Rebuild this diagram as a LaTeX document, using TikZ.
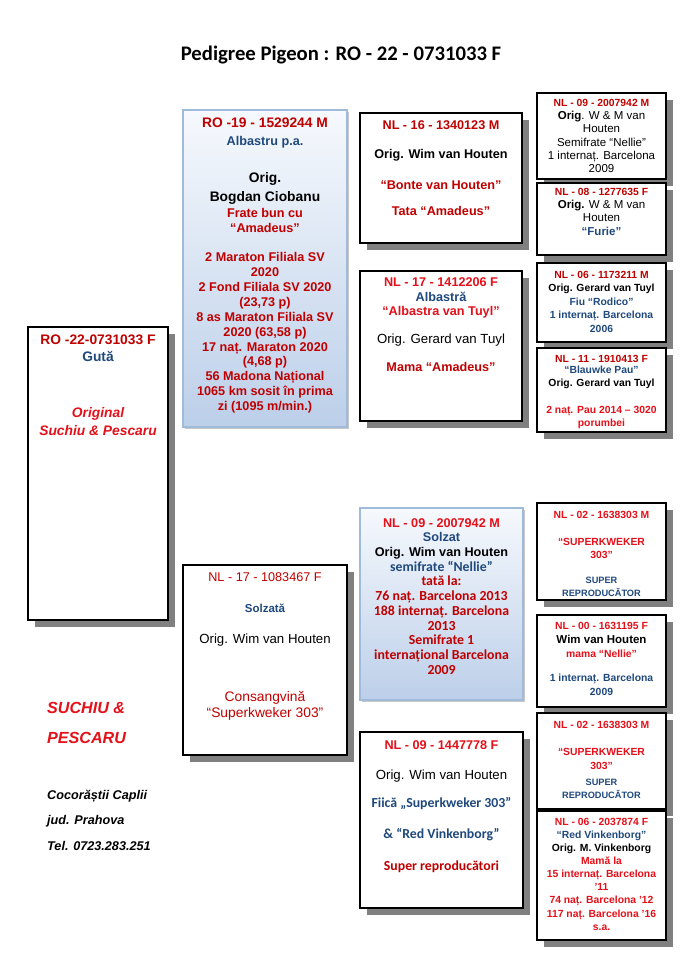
\documentclass[tikz,border=0pt]{standalone}
\usepackage{fontspec}
\setmainfont{Liberation Sans}
\newfontfamily\calib{Carlito}
\usetikzlibrary{shadows,calc,fit}
\definecolor{pedred}{RGB}{192,0,0}
\definecolor{litred}{RGB}{228,16,26}
\definecolor{pedblue}{RGB}{31,73,125}
\definecolor{gradtop}{RGB}{246,249,253}
\definecolor{gradbot}{RGB}{188,207,233}
\definecolor{gradline}{RGB}{160,186,218}
\newcommand{\fsz}[2]{\fontsize{#1}{#2}\selectfont}
\newcommand{\pred}[1]{{\color{pedred}#1}}
\newcommand{\plred}[1]{{\color{litred}#1}}
\newcommand{\pblue}[1]{{\color{pedblue}#1}}
\newcommand{\cbf}{\calib\fsz{12}{12.8}}

\begin{document}
\begin{tikzpicture}[
    x=0.869pt, y=-0.869pt,
    pedbox/.style={
        draw=black,
        line width=1pt,
        fill=white,
        inner sep=0pt,
        drop shadow={shadow xshift=6pt, shadow yshift=-6pt, fill=black!50, opacity=1}
    },
    gradbox/.style={
        draw=gradline,
        line width=1pt,
        top color=gradtop,
        bottom color=gradbot,
        inner sep=0pt,
        drop shadow={shadow xshift=2pt, shadow yshift=-2pt, fill=black!22, opacity=1}
    },
    txt/.style={anchor=north, align=center, inner sep=0pt},
    side/.style={anchor=base west, inner sep=0pt, font=\bfseries\itshape}
]
\useasboundingbox (0,0) rectangle (685,968);
\fill[white] (0,0) rectangle (685,968);

% Title
\node[font=\calib\bfseries\fsz{18}{22}] (title) at (341,55)
    {Pedigree Pigeon : RO - 22 - 0731033 F};

% Boxes
\node[pedbox, fit={(28,327) (168,620)}] (root) {};
\node[gradbox, fit={(183,110) (347,427)}] (sire) {};
\node[pedbox, fit={(183,565) (347,755)}] (dam) {};

\node[pedbox, fit={(360,113) (522,243)}] (ss) {};
\node[pedbox, fit={(360,271) (522,421)}] (sd) {};
\node[gradbox, fit={(360,508) (523,700)}] (ds) {};
\node[pedbox, fit={(360,732) (523,908)}] (dd) {};

\node[pedbox, fit={(537,93) (666,179)}] (sss) {};
\node[pedbox, fit={(537,183) (666,255)}] (ssd) {};
\node[pedbox, fit={(537,263) (666,342)}] (sds) {};
\node[pedbox, fit={(537,348) (666,432)}] (sdd) {};
\node[pedbox, fit={(537,503) (666,600)}] (dss) {};
\node[pedbox, fit={(537,615) (666,707)}] (dsd) {};
\node[pedbox, fit={(537,713) (666,809)}] (dds) {};
\node[pedbox, fit={(537,811) (666,940)}] (ddd) {};

% Root
\node[txt, font=\bfseries\fsz{12}{15}] (rootT) at ($(root.north)+(0,8)$)
    {\pred{RO -22-0731033 F}\\
     \pblue{Gută}\\[33.7pt]
     \plred{\itshape Original}\\[0.6pt]
     \plred{\itshape Suchiu \& Pescaru}};

% Generation 1
\node[txt, font=\bfseries\fsz{11}{13}] (sireT) at ($(sire.north)+(0,8)$)
    {{\fsz{12}{13}\pred{RO -19 - 1529244 M}}\\[2.6pt]
     \pblue{Albastru p.a.}\\[19.2pt]
     {\fsz{12}{13}Orig.}\\[3.5pt]
     {\fsz{12}{13}Bogdan Ciobanu}\\[0.9pt]
     \pred{Frate bun cu}\\
     \pred{“Amadeus”}\\[12.2pt]
     \pred{2 Maraton Filiala SV}\\
     \pred{2020}\\
     \pred{2 Fond Filiala SV 2020}\\
     \pred{(23,73 p)}\\
     \pred{8 as Maraton Filiala SV}\\
     \pred{2020 (63,58 p)}\\
     \pred{17 naț. Maraton 2020}\\
     \pred{(4,68 p)}\\
     \pred{56 Madona Național}\\
     \pred{1065 km sosit în prima}\\
     \pred{zi (1095 m/min.)}};

\node[txt, font=\fsz{11}{13}] (damT) at ($(dam.north)+(0,7.5)$)
    {\pred{NL - 17 - 1083467 F}\\[14pt]
     {\bfseries\fsz{10}{13}\pblue{Solzată}}\\[14pt]
     {\fsz{11.5}{13}Orig. Wim van Houten}\\[37.4pt]
     {\fsz{12}{13}\pred{Consangvină}}\\[0.9pt]
     {\fsz{12}{13}\pred{“Superkweker 303”}}};

% Generation 2
\node[txt, font=\bfseries\fsz{11}{13}] (ssT) at ($(ss.north)+(0,8.5)$)
    {\pred{NL - 16 - 1340123 M}\\[12.2pt]
     Orig. Wim van Houten\\[13.1pt]
     \pred{“Bonte van Houten”}\\[9.6pt]
     \pred{Tata “Amadeus”}};

\node[txt, font=\bfseries\fsz{11}{13}] (sdT) at ($(sd.north)+(0,7.5)$)
    {\plred{NL - 17 - 1412206 F}\\[-0.8pt]
     \pblue{Albastră}\\
     \plred{“Albastra van Tuyl”}\\[11.3pt]
     {\mdseries\fsz{11.5}{13}Orig. Gerard van Tuyl}\\[11.3pt]
     \pred{Mama “Amadeus”}};

\node[txt, font=\bfseries\fsz{11}{12.8}] (dsT) at ($(ds.north)+(0,10.5)$)
    {\plred{NL - 09 - 2007942 M}\\
     \pblue{Solzat}\\
     Orig. Wim van Houten\\
     {\cbf\pblue{semifrate “Nellie”}}\\
     {\cbf\pred{tată la:}}\\
     {\cbf\pred{76 naț. Barcelona 2013}}\\
     {\cbf\pred{188 internaț. Barcelona}}\\
     {\cbf\pred{2013}}\\
     {\cbf\pred{Semifrate 1}}\\
     {\cbf\pred{internațional Barcelona}}\\
     {\cbf\pred{2009}}};

\node[txt, font=\bfseries\fsz{11}{13}] (ddT) at ($(dd.north)+(0,8.5)$)
    {\plred{NL - 09 - 1447778 F}\\[13.1pt]
     {\mdseries\fsz{11.5}{13}Orig. Wim van Houten}\\[11.3pt]
     {\cbf\pblue{Fiică „Superkweker 303”}}\\[14.8pt]
     {\cbf\pblue{\& “Red Vinkenborg”}}\\[14.8pt]
     {\cbf\pred{Super reproducători}}};

% Generation 3
\node[txt, font=\fsz{10}{11.6}] (sssT) at ($(sss.north)+(0,6.3)$)
    {{\bfseries\fsz{9}{11.6}\pred{NL - 09 - 2007942 M}}\\
     \textbf{Orig}. W \& M van\\
     Houten\\
     Semifrate “Nellie”\\
     1 internaț. Barcelona\\
     2009};

\node[txt, font=\fsz{10}{11.6}] (ssdT) at ($(ssd.north)+(0,5.3)$)
    {{\bfseries\fsz{9}{11.6}\pred{NL - 08 - 1277635 F}}\\
     \textbf{Orig.} W \& M van\\
     Houten\\
     {\bfseries\pblue{“Furie”}}};

\node[txt, font=\bfseries\fsz{9}{11.7}] (sdsT) at ($(sds.north)+(0,8.3)$)
    {\pred{NL - 06 - 1173211 M}\\
     Orig. Gerard van Tuyl\\
     \pblue{Fiu “Rodico”}\\
     \pblue{1 internaț. Barcelona}\\
     \pblue{2006}};

\node[txt, font=\bfseries\fsz{9}{11.7}] (sddT) at ($(sdd.north)+(0,7.3)$)
    {\pred{NL - 11 - 1910413 F}\\[-2.1pt]
     \pblue{“Blauwke Pau”}\\[-0.4pt]
     Orig. Gerard van Tuyl\\[11.8pt]
     \plred{2 naț. Pau 2014 – 3020}\\[-0.4pt]
     \plred{porumbei}};

\node[txt, font=\bfseries\fsz{9}{11.7}] (dssT) at ($(dss.north)+(0,8.3)$)
    {\plred{NL - 02 - 1638303 M}\\[11.8pt]
     \plred{“SUPERKWEKER}\\[-0.4pt]
     \plred{303”}\\[10pt]
     {\fsz{8}{11.7}\pblue{SUPER}}\\[-0.4pt]
     {\fsz{8}{11.7}\pblue{REPRODUCĂTOR}}};

\node[txt, font=\bfseries\fsz{9}{11.7}] (dsdT) at ($(dsd.north)+(0,7.3)$)
    {\plred{NL - 00 - 1631195 F}\\[0.5pt]
     {\fsz{10}{11.7}Wim van Houten}\\[0.5pt]
     \plred{mama “Nellie”}\\[9.2pt]
     \pblue{1 internaț. Barcelona}\\[0.5pt]
     \pblue{2009}};

\node[txt, font=\bfseries\fsz{9}{11.7}] (ddsT) at ($(dds.north)+(0,8.3)$)
    {\plred{NL - 02 - 1638303 M}\\[11.8pt]
     \plred{“SUPERKWEKER}\\[0.5pt]
     \plred{303”}\\[2.2pt]
     {\fsz{8}{11.7}\pblue{SUPER}}\\[-0.4pt]
     {\fsz{8}{11.7}\pblue{REPRODUCĂTOR}}};

\node[txt, font=\bfseries\fsz{9}{11.4}] (dddT) at ($(ddd.north)+(0,7.3)$)
    {\plred{NL - 06 - 2037874 F}\\
     \pblue{“Red Vinkenborg”}\\
     Orig. M. Vinkenborg\\
     \plred{Mamă la}\\
     \plred{15 internaț. Barcelona}\\
     \plred{’11}\\
     \plred{74 naț. Barcelona ’12}\\
     \plred{117 naț. Barcelona ’16}\\
     \plred{s.a.}};

% Breeder
\node[side, text=litred, font=\bfseries\itshape\fsz{14}{17}] (brand1) at (47,713.8) {SUCHIU \&};
\node[side, text=litred, font=\bfseries\itshape\fsz{14}{17}] (brand2) at (47,743.8) {PESCARU};
\node[side, font=\bfseries\itshape\fsz{11}{13}] (addr1) at (47,799.5) {Cocorăștii Caplii};
\node[side, font=\bfseries\itshape\fsz{11}{13}] (addr2) at (47,824.5) {jud. Prahova};
\node[side, font=\bfseries\itshape\fsz{11}{13}] (addr3) at (47,850.5) {Tel. 0723.283.251};

\end{tikzpicture}
\end{document}
